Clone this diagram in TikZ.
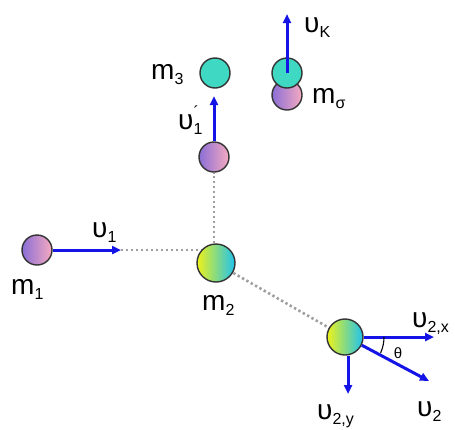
\documentclass[tikz,border=0pt]{standalone}
\usepackage{fontspec}
\setmainfont{Liberation Sans}
\usetikzlibrary{positioning,arrows.meta,backgrounds}

\definecolor{violetL}{HTML}{8A6ED6}
\definecolor{pinkR}{HTML}{F6AAC0}
\definecolor{tealB}{HTML}{3FD8C2}
\definecolor{yellowL}{HTML}{EEF21A}
\definecolor{cyanR}{HTML}{1EC2EE}
\definecolor{arrowblue}{HTML}{1414E6}

\newcommand\symsub[2]{#1\raisebox{-0.2em}{\fontsize{16}{16}\selectfont #2}}

\begin{document}
\begin{tikzpicture}[x=1pt, y=-1pt,
		every node/.style={font=\fontsize{28}{28}\selectfont, inner sep=0pt},
		ball/.style={circle, draw=black!80, line width=1.4pt, minimum size=30pt},
		violet ball/.style={ball, left color=violetL, right color=pinkR},
		teal ball/.style={ball, fill=tealB},
		mixed ball/.style={ball, left color=yellowL, right color=cyanR, minimum size=38pt},
		speed/.style={draw=arrowblue, line width=3pt, -{Triangle[length=9pt,width=8pt]}},
		track/.style={draw=gray!75, line width=2.6pt, dash pattern=on 2.4pt off 2.6pt},
		lbl/.style={anchor=base west},
		]
		\useasboundingbox (0,0) rectangle (455,429);

		% balls
		\node[violet ball] (m1) at (37,250) {};
		\node[mixed ball] (m2) at (216,263) {};
		\node[violet ball] (m1s) at (214,157) {};
		\node[teal ball] (m3) at (215,73) {};
		\node[violet ball] (msig) at (287,95) {};
		\node[teal ball] (mK) at (287,73) {};
		\node[mixed ball, minimum size=36pt] (m2s) at (345,337) {};

		% arrow ends
		\coordinate (u1 tip) at (121,250);
		\coordinate (cross) at (m1s |- u1 tip);
		\coordinate (u1s tip) at (214,96);
		\coordinate (uK tip) at (287,14);
		\coordinate (u2x tip) at (434,337);
		\coordinate (u2 tip) at (429,381);
		\coordinate (u2y tip) at (348,394);

		\begin{scope}[on background layer]
			\draw[track] (u1 tip) -- (cross) -- (m1s.south);
			\draw[track] (m2.center) -- (m2s.center);
		\end{scope}

		\draw[speed] (m1.east) -- (u1 tip);
		\draw[speed] (m1s.north) -- (u1s tip);
		\draw[speed] (mK.center) -- (uK tip);
		\draw[speed] (m2s.east) -- (u2x tip);
		\draw[speed] (m2s.-26) -- (u2 tip);
		\draw[speed] ([xshift=3pt]m2s.south) -- (u2y tip);
		\draw[line width=1.1pt] ([shift={(0:39)}]m2s.center) arc[start angle=0, end angle=24, radius=39];

		% labels
		\node[lbl] (u1 lbl) at (92,237) {\symsub{υ}{1}};
		\node[lbl] (m1 lbl) at (11,294) {\symsub{m}{1}};
		\node[lbl] (m2 lbl) at (202,310) {\symsub{m}{2}};
		\node[lbl] (m3 lbl) at (151,79) {\symsub{m}{3}};
		\node[lbl] (u1s lbl) at (178,129) {υ\rlap{\raisebox{0.4em}{\fontsize{16}{16}\selectfont ´}}\raisebox{-0.2em}{\fontsize{16}{16}\selectfont 1}};
		\node[lbl] (uK lbl) at (304,32) {\symsub{υ}{K}};
		\node[lbl] (msig lbl) at (312,103) {\symsub{m}{σ}};
		\node[lbl] (u2x lbl) at (412,327) {\symsub{υ}{2,x}};
		\node[lbl] (u2 lbl) at (417,416) {\symsub{υ}{2}};
		\node[lbl] (u2y lbl) at (317,419) {\symsub{υ}{2,y}};
		\node[font=\fontsize{15}{15}\selectfont] (theta) at (398,353) {θ};
	\end{tikzpicture}
\end{document}
